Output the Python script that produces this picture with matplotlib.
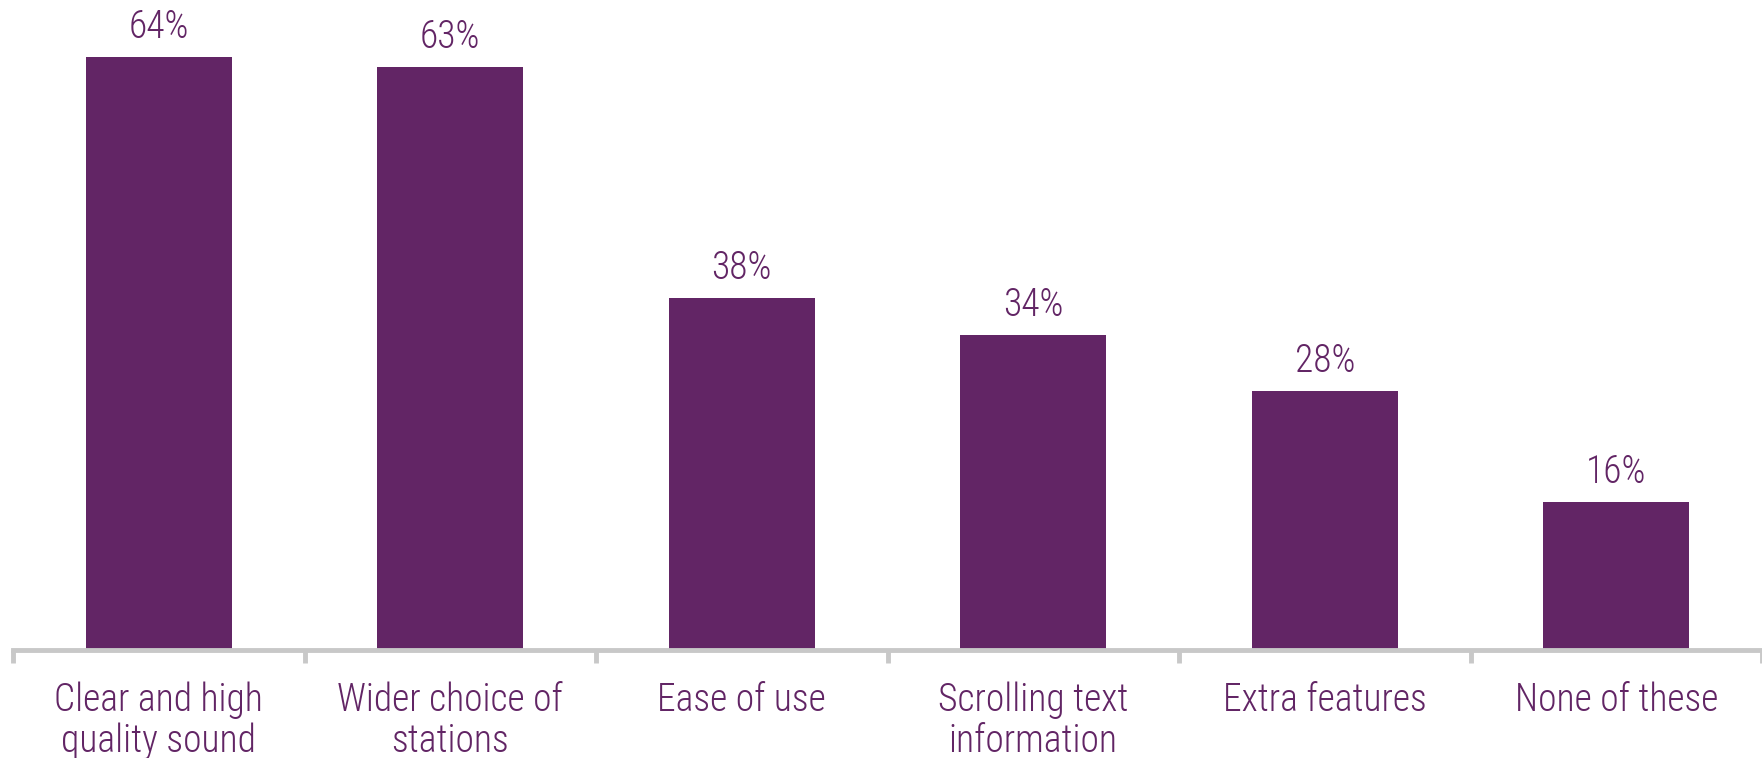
import matplotlib
matplotlib.use("Agg")
import matplotlib.pyplot as plt
import numpy as np

categories = ["Clear and high\nquality sound", "Wider choice of\nstations", "Ease of use",
              "Scrolling text\ninformation", "Extra features", "None of these"]
values = [64, 63, 38, 34, 28, 16]

purple = "#622565"
grey = "#c8c8c8"

plt.rcParams['font.family'] = ['Liberation Sans Narrow', 'Roboto Condensed', 'Roboto', 'DejaVu Sans']
plt.rcParams['font.weight'] = 'light'

fig = plt.figure(figsize=(17.62, 7.58), dpi=100)
ax = fig.add_axes([13 / 1762, 108 / 758, 1749 / 1762, 650 / 758])

x = np.arange(len(categories))
bars = ax.bar(x, values, width=0.5, color=purple, zorder=2)

for b, v in zip(bars, values):
    ax.annotate(f"{v}%", (b.get_x() + b.get_width() / 2, v), xytext=(0, 8),
                textcoords="offset points", ha="center", va="bottom",
                fontsize=27, color=purple)

ax.set_xlim(-0.5, len(categories) - 0.5)
ax.set_ylim(0, 70.2)

for s in ["top", "right", "left"]:
    ax.spines[s].set_visible(False)
ax.spines["bottom"].set_color(grey)
ax.spines["bottom"].set_linewidth(3.5)
ax.set_yticks([])

# category boundaries as ticks, labels centred under each bar
ax.set_xticks(np.arange(len(categories) + 1) - 0.5)
ax.set_xticklabels([])
ax.tick_params(axis="x", which="major", length=9, width=3.5, color=grey)
ax.set_xticks(x, minor=True)
ax.set_xticklabels(categories, minor=True, fontsize=27, color=purple, linespacing=1.1)
ax.tick_params(axis="x", which="minor", length=0, pad=23)

fig.savefig("out.png", dpi=100)
